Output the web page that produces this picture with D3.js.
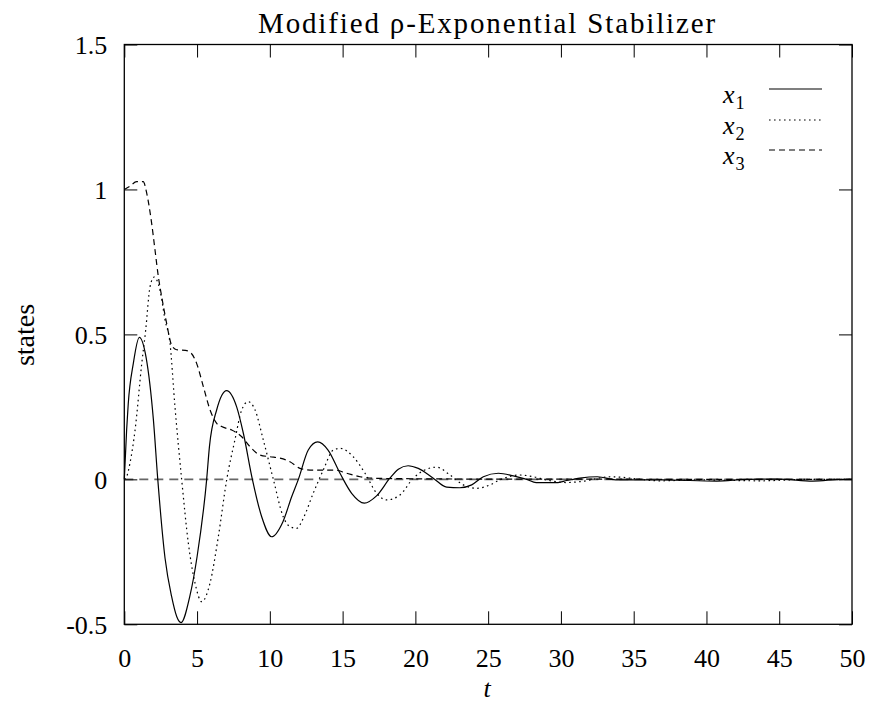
<!DOCTYPE html>
<html>
<head>
<meta charset="utf-8">
<script src="https://cdn.jsdelivr.net/npm/d3@7"></script>
<style>
  html, body { margin: 0; padding: 0; background: #fff; }
  svg { display: block; }
  text { font-family: "Liberation Serif", "Times New Roman", "Tinos", "DejaVu Serif", serif; fill: #000; }
</style>
</head>
<body>
<div id="chart"></div>
<script>
// ---------- data ----------
const titleText = "Modified ρ-Exponential Stabilizer";
const xTicks = [0, 5, 10, 15, 20, 25, 30, 35, 40, 45, 50];
const yTicks = [-0.5, 0, 0.5, 1, 1.5];
const yTickLabels = ["-0.5", "0", "0.5", "1", "1.5"];

// x1 (solid)
const t1 = [0, 0.16, 0.27, 0.62, 1.03, 1.5, 2.0, 2.3, 2.8, 3.25, 3.6, 3.9, 4.5, 5.0, 5.66, 5.85, 6.35, 7.03,
  7.72, 8.18, 8.8, 9.44, 10.12, 10.9, 11.5, 11.96, 12.64, 13.29, 14.0, 14.82, 15.62, 16.49, 17.33, 18.25,
  18.83, 19.5, 20.2, 21.23, 22.15, 23.06, 23.87, 24.67, 25.7, 26.73, 27.65, 28.3, 29.8, 30.4, 30.85, 31.3,
  32.5, 33.9, 37.0, 40.7, 42.8, 45.0, 47.3, 49.4, 50];
const x1 = [0, 0.17, 0.26, 0.40, 0.49, 0.42, 0.205, 0, -0.272, -0.404, -0.473, -0.494, -0.404, -0.267, 0, 0.113, 0.24, 0.306,
  0.25, 0.159, 0, -0.129, -0.198, -0.146, -0.06, 0, 0.101, 0.129, 0.101, 0.021, -0.048, -0.082, -0.057, 0.004,
  0.035, 0.047, 0.038, 0.004, -0.027, -0.029, -0.019, 0.009, 0.021, 0.012, 0, -0.011, -0.011, -0.004, 0, 0.004,
  0.009, -0.002, -0.002, -0.006, 0, 0.001, -0.006, 0, 0];

// x2 (dotted)
const t2 = [0, 0.16, 0.39, 0.74, 1.2, 1.47, 1.77, 2.05, 2.45, 2.8, 3.14, 3.48, 3.94, 4.4, 4.86, 5.32, 5.89, 6.46, 7.04,
  7.6, 8.07, 8.52, 8.98, 9.55, 10.24, 10.92, 11.38, 11.84, 12.3, 12.98, 13.67, 14.36, 14.82, 15.73, 16.54,
  17.34, 18.03, 18.94, 19.86, 20.77, 21.46, 22.38, 23.29, 24.2, 25.13, 25.8, 27.2, 28.1, 29.0, 30.4, 31.3,
  33.4, 36.8, 39.5, 43.7, 47.0, 50];
const x2 = [0, 0.009, 0.056, 0.17, 0.40, 0.515, 0.665, 0.698, 0.653, 0.55, 0.469, 0.251, 0, -0.22, -0.358, -0.422, -0.358, -0.198, 0,
  0.136, 0.24, 0.268, 0.24, 0.136, 0, -0.129, -0.163, -0.169, -0.134, -0.048, 0.032, 0.101, 0.107, 0.078, 0.021,
  -0.048, -0.071, -0.054, 0.004, 0.035, 0.042, 0.015, -0.019, -0.031, -0.019, -0.002, 0.015, 0.009, -0.002, -0.011, -0.008,
  0.009, -0.005, -0.002, -0.005, 0, 0];

// x3 (dashed)
const t3 = [0, 0.4, 0.85, 1.3, 1.54, 1.88, 2.11, 2.34, 2.57, 2.91, 3.25, 3.6, 4.2, 4.6, 4.97, 5.43, 5.89, 6.35, 6.69,
  7.38, 8.07, 8.63, 9.32, 10.0, 10.7, 11.38, 12.07, 12.76, 13.67, 14.47, 15.28, 16.2, 17.0, 20.0, 25.0, 30.0, 40.0, 50];
const x3 = [1.0, 1.012, 1.027, 1.027, 0.987, 0.883, 0.791, 0.699, 0.63, 0.538, 0.463, 0.447, 0.445, 0.435, 0.40, 0.32, 0.24, 0.193, 0.182,
  0.17, 0.147, 0.113, 0.084, 0.078, 0.073, 0.061, 0.038, 0.032, 0.032, 0.032, 0.021, 0.009, 0.004, 0.002, 0.001, 0.001, 0, 0];

const seriesNames = ["x1", "x2", "x3"];
const seriesSubs = ["1", "2", "3"];

// ---------- layout ----------
const W = 870, H = 709;
const L = 124.3, R = 852, T = 44.5, B = 624.3;
const FONT = "'Liberation Serif', 'Times New Roman', 'Tinos', 'DejaVu Serif', serif";

const svg = d3.select("#chart").append("svg").attr("width", W).attr("height", H);

const x = d3.scaleLinear().domain([0, 50]).range([L, R]);
const y = d3.scaleLinear().domain([-0.5, 1.5]).range([B, T]);

const tickLen = 13;

// choose font size so that a probe string has a target width
function fitSize(str, targetW, base, italic) {
  const probe = svg.append("text").style("font-family", FONT).style("font-size", base + "px")
    .style("font-style", italic ? "italic" : "normal").text(str);
  const w = probe.node().getComputedTextLength();
  probe.remove();
  return w > 0 ? base * targetW / w : base;
}
const tickSize = Math.min(30, fitSize("10", 26, 26));
const titleSize = 29;
const statesSize = Math.min(28, fitSize("states", 68, 26));

// zero axis (dashed gray)
svg.append("line")
  .attr("x1", x(0)).attr("x2", x(50)).attr("y1", y(0)).attr("y2", y(0))
  .attr("stroke", "#666").attr("stroke-width", 1.6).attr("stroke-dasharray", "9,6");

// ticks (inward, mirrored) via d3 axes
const axB = svg.append("g").attr("transform", `translate(0,${B})`)
  .call(d3.axisBottom(x).tickValues(xTicks).tickSize(-tickLen).tickPadding(24).tickFormat(d3.format("d")));
const axT = svg.append("g").attr("transform", `translate(0,${T})`)
  .call(d3.axisTop(x).tickValues(xTicks).tickSize(-tickLen).tickFormat(""));
const axL = svg.append("g").attr("transform", `translate(${L},0)`)
  .call(d3.axisLeft(y).tickValues(yTicks).tickSize(-tickLen).tickPadding(17)
    .tickFormat((d, i) => yTickLabels[i]));
const axR = svg.append("g").attr("transform", `translate(${R},0)`)
  .call(d3.axisRight(y).tickValues(yTicks).tickSize(-tickLen).tickFormat(""));

[axB, axT, axL, axR].forEach(g => {
  g.attr("font-family", null);
  g.select(".domain").remove();
  g.selectAll(".tick line").attr("stroke", "#000").attr("stroke-width", 1);
  g.selectAll("text").style("font-family", FONT).style("font-size", tickSize + "px").attr("fill", "#000");
});
axB.selectAll("text").attr("dy", "0.71em");
axL.selectAll("text").attr("dy", "0.35em");

// frame
svg.append("rect").attr("x", L).attr("y", T).attr("width", R - L).attr("height", B - T)
  .attr("fill", "none").attr("stroke", "#000").attr("stroke-width", 1.3);

// curves
const styles = [
  { dash: null, width: 1.2 },
  { dash: "1.6,3.4", width: 1.2 },
  { dash: "6,4", width: 1.2 }
];
const seriesData = [
  t1.map((t, i) => [t, x1[i]]),
  t2.map((t, i) => [t, x2[i]]),
  t3.map((t, i) => [t, x3[i]])
];
const line = d3.line().x(d => x(d[0])).y(d => y(d[1])).curve(d3.curveMonotoneX);
seriesData.forEach((data, i) => {
  svg.append("path").datum(data)
    .attr("d", line)
    .attr("fill", "none")
    .attr("stroke", "#000")
    .attr("stroke-width", styles[i].width)
    .attr("stroke-dasharray", styles[i].dash);
});

// legend
const legY = [89, 120, 150];
seriesNames.forEach((n, i) => {
  svg.append("line").attr("x1", 769).attr("x2", 822).attr("y1", legY[i]).attr("y2", legY[i])
    .attr("stroke", "#000").attr("stroke-width", 1.2).attr("stroke-dasharray", styles[i].dash);
  const tx = svg.append("text").attr("x", 723).attr("y", legY[i] + 14)
    .style("font-family", FONT).style("font-size", tickSize + "px");
  tx.append("tspan").text("x").style("font-style", "italic");
  tx.append("tspan").text(seriesSubs[i]).attr("dy", 6).attr("dx", 1).style("font-size", (tickSize * 0.7) + "px");
});

// title (spread to the reference width)
const title = svg.append("text").attr("x", 487.5).attr("y", 33).attr("text-anchor", "middle")
  .style("font-family", FONT).style("font-size", titleSize + "px").text(titleText);
const tw = title.node().getComputedTextLength();
if (tw > 0 && tw < 459) {
  title.style("letter-spacing", ((459 - tw) / titleText.length) + "px");
}

// axis labels
svg.append("text").attr("x", x(25) - 1).attr("y", 697).attr("text-anchor", "middle")
  .style("font-family", FONT).style("font-size", tickSize + "px").style("font-style", "italic").text("t");
svg.append("text").attr("transform", `translate(34,335) rotate(-90)`).attr("text-anchor", "middle")
  .style("font-family", FONT).style("font-size", statesSize + "px").text("states");
</script>
</body>
</html>
